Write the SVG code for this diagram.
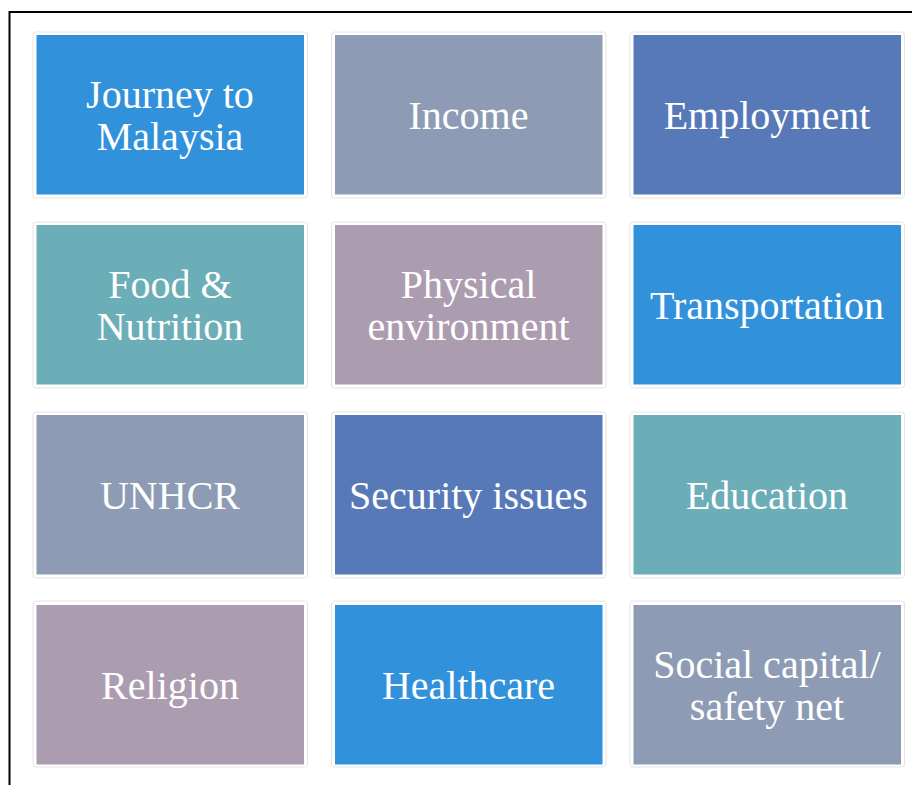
<svg xmlns="http://www.w3.org/2000/svg" width="912" height="785" viewBox="0 0 912 785">
<style>
.frame{fill:#fff;stroke:#e4e4e4;stroke-width:1}
.c1{fill:#3191DB}.c2{fill:#8D9CB4}.c3{fill:#5779B7}.c4{fill:#6BAEB7}.c5{fill:#AC9CB0}
.t{font-family:"Liberation Serif","Times New Roman",serif;font-size:40px;fill:#fff;text-anchor:middle}
</style>
<rect width="912" height="785" fill="#fff"/>
<path d="M9.5 785 V12 H912" fill="none" stroke="#000" stroke-width="2"/>
<g id="n1"><rect class="frame" x="33" y="32" width="274.5" height="166" rx="3"/><rect class="c1" x="36.5" y="35" width="267.5" height="159.5"/><text class="t" x="170" y="108">Journey to</text><text class="t" x="170" y="150">Malaysia</text></g>
<g id="n2"><rect class="frame" x="331.5" y="32" width="274.5" height="166" rx="3"/><rect class="c2" x="335" y="35" width="267.5" height="159.5"/><text class="t" x="468.5" y="129">Income</text></g>
<g id="n3"><rect class="frame" x="630" y="32" width="274.5" height="166" rx="3"/><rect class="c3" x="633.5" y="35" width="267.5" height="159.5"/><text class="t" x="767" y="129">Employment</text></g>
<g id="n4"><rect class="frame" x="33" y="222" width="274.5" height="166" rx="3"/><rect class="c4" x="36.5" y="225" width="267.5" height="159.5"/><text class="t" x="170" y="298">Food &amp;</text><text class="t" x="170" y="340">Nutrition</text></g>
<g id="n5"><rect class="frame" x="331.5" y="222" width="274.5" height="166" rx="3"/><rect class="c5" x="335" y="225" width="267.5" height="159.5"/><text class="t" x="468.5" y="298">Physical</text><text class="t" x="468.5" y="340">environment</text></g>
<g id="n6"><rect class="frame" x="630" y="222" width="274.5" height="166" rx="3"/><rect class="c1" x="633.5" y="225" width="267.5" height="159.5"/><text class="t" x="767" y="319">Transportation</text></g>
<g id="n7"><rect class="frame" x="33" y="412" width="274.5" height="166" rx="3"/><rect class="c2" x="36.5" y="415" width="267.5" height="159.5"/><text class="t" x="170" y="509">UNHCR</text></g>
<g id="n8"><rect class="frame" x="331.5" y="412" width="274.5" height="166" rx="3"/><rect class="c3" x="335" y="415" width="267.5" height="159.5"/><text class="t" x="468.5" y="509">Security issues</text></g>
<g id="n9"><rect class="frame" x="630" y="412" width="274.5" height="166" rx="3"/><rect class="c4" x="633.5" y="415" width="267.5" height="159.5"/><text class="t" x="767" y="509">Education</text></g>
<g id="n10"><rect class="frame" x="33" y="601" width="274.5" height="166" rx="3"/><rect class="c5" x="36.5" y="605" width="267.5" height="159.5"/><text class="t" x="170" y="699">Religion</text></g>
<g id="n11"><rect class="frame" x="331.5" y="601" width="274.5" height="166" rx="3"/><rect class="c1" x="335" y="605" width="267.5" height="159.5"/><text class="t" x="468.5" y="699">Healthcare</text></g>
<g id="n12"><rect class="frame" x="630" y="601" width="274.5" height="166" rx="3"/><rect class="c2" x="633.5" y="605" width="267.5" height="159.5"/><text class="t" x="767" y="678">Social capital/</text><text class="t" x="767" y="720">safety net</text></g>
<g id="connectors"></g>
</svg>
